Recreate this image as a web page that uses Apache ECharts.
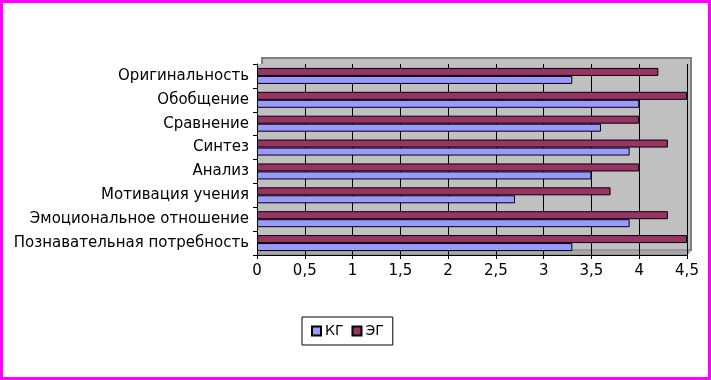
<!DOCTYPE html>
<html><head><meta charset="utf-8">
<script src="https://cdn.jsdelivr.net/npm/echarts@6/dist/echarts.min.js"></script>
<style>html,body{margin:0;padding:0;background:#fff}#c{width:711px;height:380px}</style>
</head><body><div id="c"></div>
<script>
const categories = ['Познавательная потребность','Эмоциональное отношение','Мотивация учения','Анализ','Синтез','Сравнение','Обобщение','Оригинальность'];
const kg = [3.3, 3.9, 2.7, 3.5, 3.9, 3.6, 4.0, 3.3];
const eg = [4.5, 4.3, 3.7, 4.0, 4.3, 4.0, 4.5, 4.2];
const seriesNames = ['КГ','ЭГ'];
const FONT = '"DejaVu Sans", "Liberation Sans", Arial, sans-serif';
const chart = echarts.init(document.getElementById('c'));
chart.setOption({
  animation: false,
  textStyle: {fontFamily: FONT},
  graphic: [
    {type:'rect', shape:{x:1.5,y:1.5,width:708,height:377}, style:{fill:'none', stroke:'#ff00ff', lineWidth:3}, z:100},
    {type:'rect', shape:{x:262,y:58,width:429,height:192}, style:{fill:'#c0c0c0', stroke:'#808080', lineWidth:2}, z:-10},
    {type:'polygon', shape:{points:[[257,255],[687,255],[691,250],[262,250]]}, style:{fill:'#a8a8a8', stroke:'#808080', lineWidth:1}, z:-5}
  ],
  grid: {left:257, right:24, top:64, bottom:125, show:true, backgroundColor:'#c0c0c0', borderWidth:0, z:-8},
  legend: {
    data: seriesNames, left:302, top:317, orient:'horizontal',
    borderColor:'#000', borderWidth:1, padding:[7,9,7,9], itemGap:8,
    itemWidth:9, itemHeight:9, icon:'rect',
    textStyle:{fontFamily:FONT, fontSize:14, color:'#000', padding:[0,0,0,-1]}
  },
  xAxis: {
    type:'value', min:0, max:4.5, interval:0.5,
    axisLine:{show:true, lineStyle:{color:'#000'}},
    axisTick:{show:true, length:4, lineStyle:{color:'#000'}},
    splitLine:{show:true, lineStyle:{color:'#000', width:1}},
    axisLabel:{color:'#000', fontSize:15, fontFamily:FONT, margin:9, formatter:v=>String(v).replace('.',',')}
  },
  yAxis: {
    type:'category', data:categories,
    axisLine:{show:true, lineStyle:{color:'#000'}},
    axisTick:{show:true, length:4, lineStyle:{color:'#000'}},
    axisLabel:{color:'#000', fontSize:15, fontFamily:FONT, margin:8}
  },
  series: [
    {name:'ЭГ', type:'bar', data:eg, barGap:'0%', barCategoryGap:'33%',
     itemStyle:{color:'#993366', borderColor:'#000', borderWidth:1}},
    {name:'КГ', type:'bar', data:kg, barGap:'0%', barCategoryGap:'33%',
     itemStyle:{color:'#9999ff', borderColor:'#000', borderWidth:1}}
  ]
});
</script></body></html>
